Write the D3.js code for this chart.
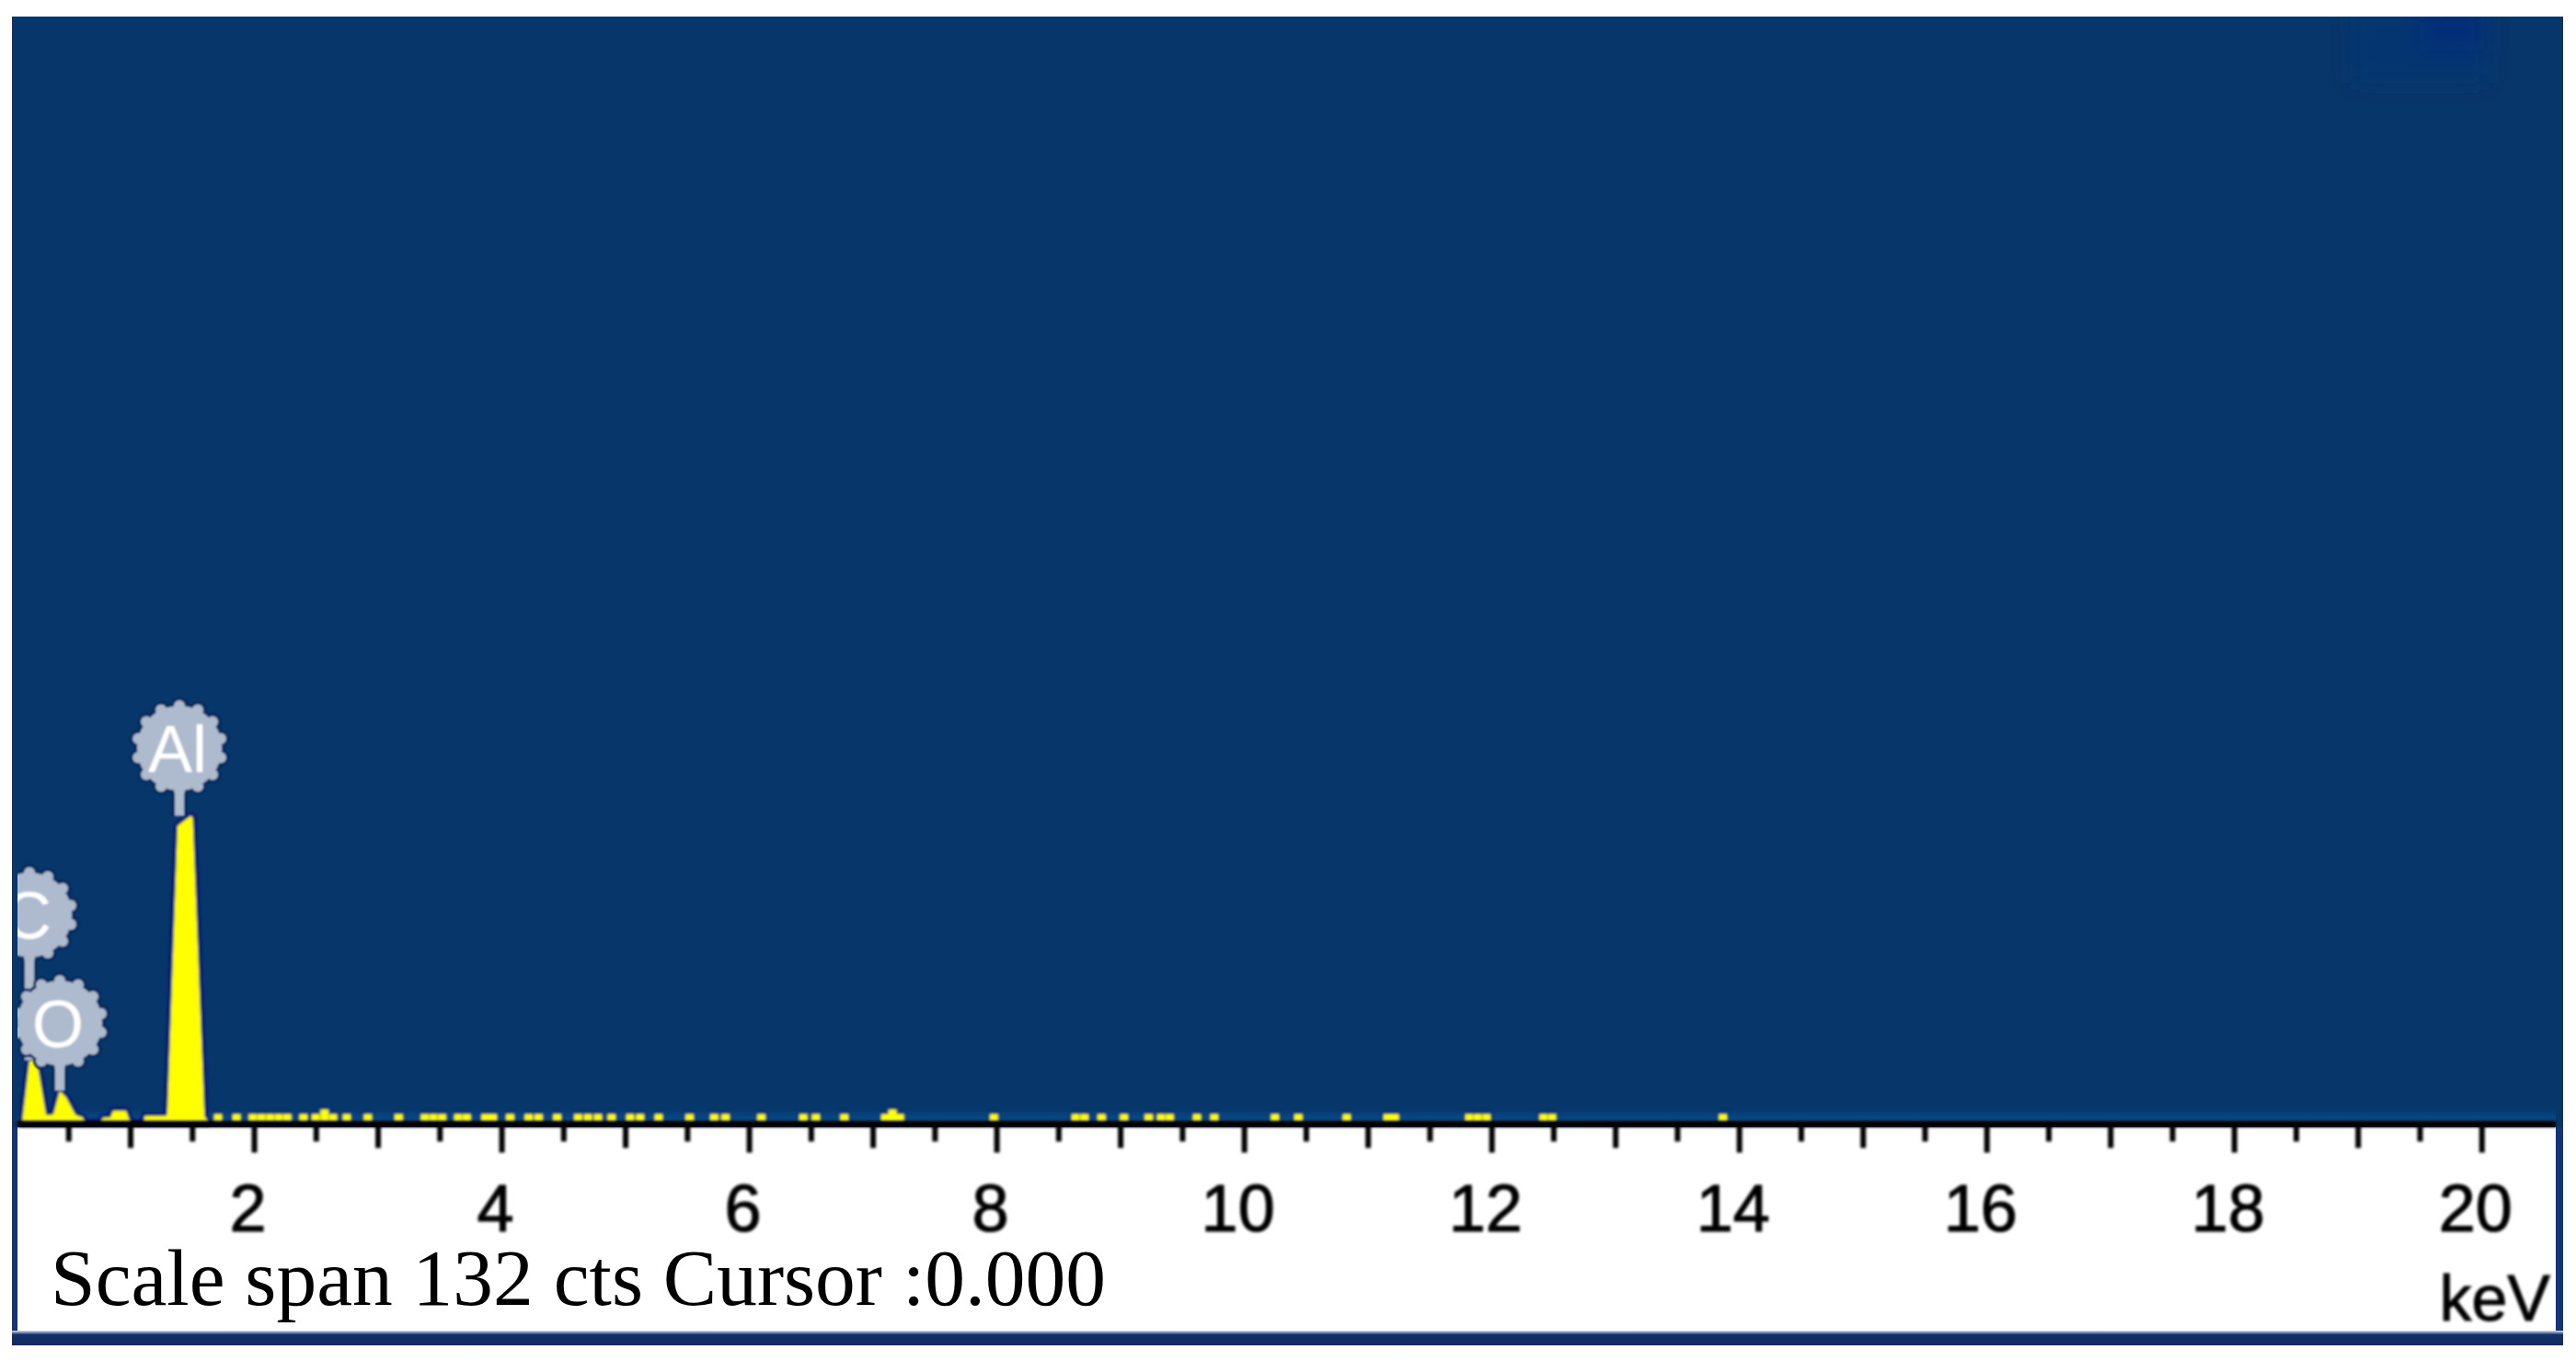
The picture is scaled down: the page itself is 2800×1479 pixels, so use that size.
<!DOCTYPE html>
<html>
<head>
<meta charset="utf-8">
<script src="https://cdn.jsdelivr.net/npm/d3@7"></script>
<style>
html,body{margin:0;padding:0;background:#fff;}
svg{display:block;}
</style>
</head>
<body>
<div id="chart"></div>
<script>
// ---------- data ----------
const peakEnergy = [0.13,0.186,0.245,0.32,0.35,0.38,0.431,0.483,0.558,0.617,0.63,
                    0.766,0.78,0.84,0.862,0.967,1.0,1.115,1.116,1.286,1.30,1.383,1.487,1.505,1.60,1.63];
const peakCounts = [0.4,7.4,7.4,0.9,0.9,1.0,3.8,3.0,0.9,0.6,0,
                    0,0.6,0.6,1.4,1.4,0,0,0.8,0.8,1.0,35.4,36.6,36.4,0.8,0];
const noiseEnergy = [1.71,1.86,1.99,2.06,2.13,2.20,2.27,2.40,2.50,2.57,2.64,2.75,2.92,3.17,3.38,3.45,3.52,3.65,3.72,3.87,3.93,
                     4.07,4.22,4.30,4.45,4.62,4.70,4.78,4.89,5.04,5.12,5.27,5.52,5.72,5.81,6.10,6.44,6.54,6.77,
                     7.10,7.16,7.22,7.98,8.64,8.71,8.85,9.03,9.23,9.33,9.40,9.62,9.76,10.25,10.44,10.83,11.16,11.22,11.82,11.89,11.96,12.42,12.49,13.87];
const noiseCounts = noiseEnergy.map(e => [2.57,7.16].includes(e) ? 1.55 : 1);
const channelWidth = 0.065;
const elementNames = ["C","O","Al"];
const elementEnergy = [0.186,0.431,1.398];
const elementCounts = [7.4,3.8,36.6];
const elementBadgeCounts = [24.8,11.9,44.7];
const majorTicks = [2,4,6,8,10,12,14,16,18,20];
const oddTicks = [1,3,5,7,9,11,13,15,17,19];
const halfTicks = [0.5,1.5,2.5,3.5,4.5,5.5,6.5,7.5,8.5,9.5,10.5,11.5,12.5,13.5,14.5,15.5,16.5,17.5,18.5,19.5];
const unitLabel = "keV";
const statusLabel = "Scale span 132 cts Cursor :0.000";

// ---------- layout ----------
const W = 2800, H = 1479;
const panel = {l:13, r:2786, t:18, b:1462};
const plot = {l:19, r:2778, t:18, b:1220, axisY:1221.5, whiteB:1447};
const x = d3.scaleLinear().domain([0.0892,20.6]).range([plot.l,plot.r]);
const y = d3.scaleLinear().domain([0,132]).range([plot.b,plot.t]);

const svg = d3.select("#chart").append("svg").attr("width",W).attr("height",H);
const defs = svg.append("defs");
defs.append("clipPath").attr("id","plotClip").append("rect")
  .attr("x",plot.l).attr("y",plot.t).attr("width",plot.r-plot.l).attr("height",plot.whiteB-plot.t);
const mkBlur = (id,s)=>defs.append("filter").attr("id",id).attr("filterUnits","userSpaceOnUse")
  .attr("x",0).attr("y",0).attr("width",W).attr("height",H)
  .append("feGaussianBlur").attr("stdDeviation",s);
mkBlur("soft",1.4); mkBlur("soft2",1.0); mkBlur("wide",12);
const glow = defs.append("linearGradient").attr("id","glow").attr("x1",0).attr("x2",0).attr("y1",0).attr("y2",1);
glow.append("stop").attr("offset",0).attr("stop-color","#07366a");
glow.append("stop").attr("offset",1).attr("stop-color","#05508f");
const edge = defs.append("linearGradient").attr("id","edge").attr("x1",0).attr("x2",0).attr("y1",0).attr("y2",1);
[[0,"#dfe4ec"],[0.12,"#7f90b0"],[0.28,"#14306a"],[1,"#112a60"]].forEach(s=>edge.append("stop").attr("offset",s[0]).attr("stop-color",s[1]));

// frame
svg.append("rect").attr("x",panel.l).attr("y",panel.t).attr("width",panel.r-panel.l).attr("height",panel.b-panel.t).attr("fill","#07366a");
svg.append("rect").attr("x",panel.l).attr("y",1225).attr("width",panel.r-panel.l).attr("height",panel.b-1225).attr("fill","#12357a");
svg.append("rect").attr("x",plot.l).attr("y",1225).attr("width",plot.r-plot.l).attr("height",plot.whiteB-1225).attr("fill","#ffffff");
svg.append("rect").attr("x",panel.l).attr("y",plot.whiteB-1).attr("width",panel.r-panel.l).attr("height",panel.b-plot.whiteB+1).attr("fill","url(#edge)");

const clipped = svg.append("g").attr("clip-path","url(#plotClip)");
// faint artefact top right
const art = clipped.append("g").attr("filter","url(#wide)");
art.append("rect").attr("x",2555).attr("y",10).attr("width",150).attr("height",80).attr("fill","#05327a").attr("opacity",0.35);
art.append("rect").attr("x",2630).attr("y",10).attr("width",70).attr("height",45).attr("fill","#03287f").attr("opacity",0.55);
clipped.append("rect").attr("x",plot.l).attr("y",1205).attr("width",plot.r-plot.l).attr("height",14).attr("fill","url(#glow)");

const marks = clipped.append("g").attr("filter","url(#soft)");
const area = d3.area().x((d,i)=>x(peakEnergy[i])).y0(y(0)).y1(d=>y(d));

// halo + spectrum
marks.append("path").attr("d",area(peakCounts)).attr("fill","#00187c").attr("stroke","#00187c").attr("stroke-width",8).attr("stroke-linejoin","round");
marks.selectAll("rect.nh").data(noiseEnergy).join("rect").attr("class","nh")
  .attr("x",d=>x(d-channelWidth/2)-2).attr("width",x(channelWidth)-x(0)+4)
  .attr("y",(d,i)=>y(noiseCounts[i])-3).attr("height",(d,i)=>y(0)-y(noiseCounts[i])+3).attr("fill","#04307e");
marks.append("path").attr("d",area(peakCounts)).attr("fill","#ffff00");
marks.selectAll("rect.n").data(noiseEnergy).join("rect").attr("class","n")
  .attr("x",d=>x(d-channelWidth/2)).attr("width",x(channelWidth)-x(0))
  .attr("y",(d,i)=>y(noiseCounts[i])).attr("height",(d,i)=>y(0)-y(noiseCounts[i])).attr("fill","#ffff00");

// element badges
const R = 46, teeth = 14;
const badges = clipped.append("g").attr("filter","url(#soft2)");
elementNames.forEach((name,i)=>{
  const cx = x(elementEnergy[i]), cy = y(elementBadgeCounts[i]), tip = y(elementCounts[i]);
  const g = badges.append("g");
  const draw = (col,extra)=>{
    g.append("line").attr("x1",cx).attr("x2",cx).attr("y1",cy).attr("y2",tip).attr("stroke",col).attr("stroke-width",10+extra*2);
    g.append("circle").attr("cx",cx).attr("cy",cy).attr("r",R+extra).attr("fill",col);
    d3.range(teeth).forEach(k=>{
      const a = k/teeth*2*Math.PI - Math.PI/2;
      g.append("circle").attr("cx",cx+Math.cos(a)*R).attr("cy",cy+Math.sin(a)*R).attr("r",6+extra).attr("fill",col);
    });
  };
  draw("#062a5c",3);
  draw("#aebacd",0);
  g.append("text").attr("x",cx-2).attr("y",cy+26).attr("text-anchor","middle")
   .attr("font-family","'Liberation Sans',Arial,sans-serif").attr("font-size",72)
   .attr("fill","#ffffff").text(name);
});

// axis
const axisG = svg.append("g").attr("filter","url(#soft)");
const makeAxis = (vals,len)=>{
  const g = axisG.append("g").attr("transform",`translate(0,${plot.axisY})`)
    .call(d3.axisBottom(x).tickValues(vals).tickSize(len).tickPadding(0).tickFormat(d=>d));
  g.selectAll(".tick line").attr("stroke","#000").attr("stroke-width",6);
  return g;
};
const ax3 = makeAxis(halfTicks,19); ax3.selectAll("text").remove(); ax3.select(".domain").remove();
const ax2 = makeAxis(oddTicks,26); ax2.selectAll("text").remove(); ax2.select(".domain").remove();
const ax1 = makeAxis(majorTicks,31);
ax1.select(".domain").attr("stroke","#000").attr("stroke-width",7).attr("d",`M${plot.l},0H${plot.r}`);
ax1.selectAll(".tick text").attr("y",116.5).attr("dy",0).attr("x",-7)
  .attr("font-family","'Liberation Sans',Arial,sans-serif").attr("font-size",72)
  .attr("fill","#000").attr("stroke","#000").attr("stroke-width",1.2);

axisG.append("text").attr("x",2772).attr("y",1435).attr("text-anchor","end")
  .attr("font-family","'Liberation Sans',Arial,sans-serif").attr("font-size",70)
  .attr("fill","#000").attr("stroke","#000").attr("stroke-width",1).text(unitLabel);

svg.append("text").attr("x",55).attr("y",1418)
  .attr("font-family","'Liberation Serif','Times New Roman',serif").attr("font-size",87.5)
  .attr("fill","#000").text(statusLabel);
</script>
</body>
</html>
